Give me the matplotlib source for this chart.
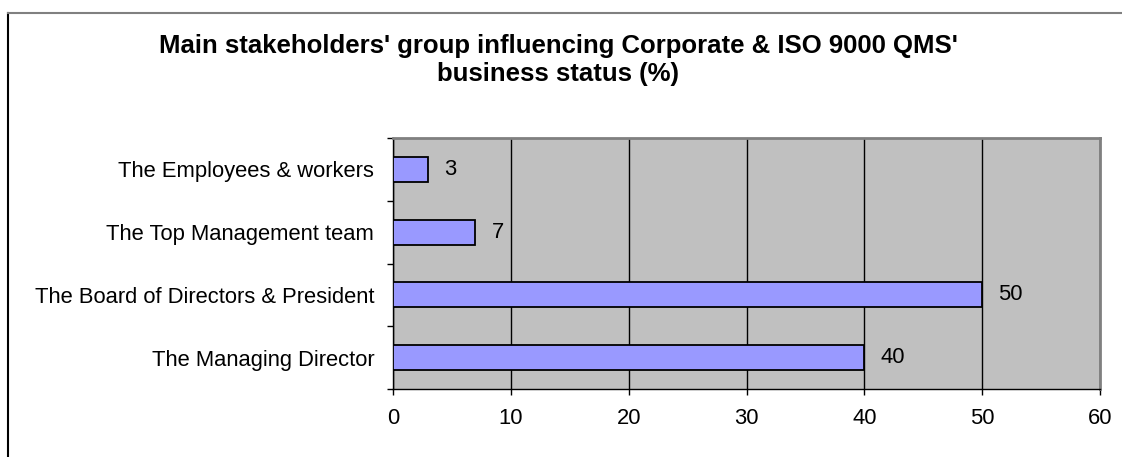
import matplotlib
matplotlib.use("Agg")
import matplotlib.pyplot as plt
from matplotlib.lines import Line2D
import numpy as np

categories = ["The Managing Director", "The Board of Directors & President",
              "The Top Management team", "The Employees & workers"]
values = [40, 50, 7, 3]
xticks = [0, 10, 20, 30, 40, 50, 60]
title = "Main stakeholders' group influencing Corporate & ISO 9000 QMS'\nbusiness status (%)"

plt.rcParams['font.family'] = ['Liberation Sans', 'DejaVu Sans']

fig = plt.figure(figsize=(11.22, 4.57), dpi=100)
ax = fig.add_axes([393/1122, 1-389/457, (1100-393)/1122, (389-138)/457])
ax.set_facecolor('#C0C0C0')

y = np.arange(len(categories))
ax.barh(y, values, height=0.4, color='#9999FF', edgecolor='black', linewidth=1.3, zorder=3)
for yi, v in zip(y, values):
    ax.annotate(str(v), (v, yi), xytext=(11.5, 0), textcoords='offset points',
                ha='left', va='center', fontsize=15.8)

ax.set_xlim(0, 60)
ax.set_ylim(-0.5, len(categories) - 0.5)
ax.set_xticks(xticks)
ax.set_xticklabels([str(t) for t in xticks], fontsize=15.8)
ax.set_yticks(np.arange(len(categories) + 1) - 0.5)
ax.set_yticklabels([])
ax.set_yticks(y, minor=True)
ax.set_yticklabels(categories, minor=True, fontsize=15.8)
ax.tick_params(axis='y', which='minor', length=0, pad=13.5)
ax.tick_params(axis='y', which='major', length=4.5, width=1, direction='out')
ax.tick_params(axis='x', length=4.5, width=1, direction='out', pad=9.5)
ax.xaxis.grid(True, color='black', linewidth=1, zorder=1)
ax.set_axisbelow(True)
for s in ['top', 'right']:
    ax.spines[s].set_color('#808080')
    ax.spines[s].set_linewidth(2)
for s in ['left', 'bottom']:
    ax.spines[s].set_color('black')
    ax.spines[s].set_linewidth(1)

fig.text(558/1122, 1-60/457, title, ha='center', va='center', fontsize=18.5,
         fontweight='bold', linespacing=1.2)

fig.add_artist(Line2D([8/1122, 8/1122], [0, 1-13/457], transform=fig.transFigure, color='black', linewidth=1.5))
fig.add_artist(Line2D([8/1122, 1], [1-13/457, 1-13/457], transform=fig.transFigure, color='#808080', linewidth=1.5))

fig.savefig('out.png', dpi=100)
